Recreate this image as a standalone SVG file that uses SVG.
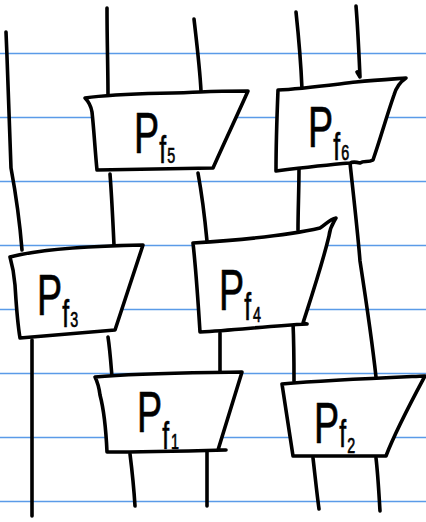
<svg xmlns="http://www.w3.org/2000/svg" width="426" height="522" viewBox="0 0 426 522">
<style>
.rule{stroke:#5a9be8;stroke-width:1.6}
.ink{fill:none;stroke:#000;stroke-width:3.6;stroke-linecap:round;stroke-linejoin:round}
.box{fill:#fff;stroke:#000;stroke-width:3.6;stroke-linecap:round;stroke-linejoin:round}
.lbl{font-family:"Liberation Sans",Arial,sans-serif;fill:#000;stroke:#000;stroke-width:0.7}
.P{font-size:58px}
.f{font-size:38px}
.d{font-size:22px}
</style>
<rect width="426" height="522" fill="#fff"/>
<g id="paper">
<line class="rule" x1="0" y1="53.5" x2="426" y2="53.5"/>
<line class="rule" x1="0" y1="117.5" x2="426" y2="117.5"/>
<line class="rule" x1="0" y1="181.5" x2="426" y2="181.5"/>
<line class="rule" x1="0" y1="245.5" x2="426" y2="245.5"/>
<line class="rule" x1="0" y1="309.5" x2="426" y2="309.5"/>
<line class="rule" x1="0" y1="373.5" x2="426" y2="373.5"/>
<line class="rule" x1="0" y1="437.5" x2="426" y2="437.5"/>
<line class="rule" x1="0" y1="501.5" x2="426" y2="501.5"/>
</g>
<g id="connectors">
<path class="ink" d="M6,32 C8,80 10,130 11,168 C16,195 20,225 22,250"/>
<path class="ink" d="M107,8 C107,40 108,70 108,95"/>
<path class="ink" d="M194,19 C197,45 200,70 201,91"/>
<path class="ink" d="M296,12 C299,40 301,65 302,89"/>
<path class="ink" d="M356,6 C358,30 359,55 360,77 L357,72"/>
<path class="ink" d="M110,174 C112,200 113,225 114,245"/>
<path class="ink" d="M198,173 C202,195 205,220 207,241"/>
<path class="ink" d="M299,168 C299,190 298,210 298,230"/>
<path class="ink" d="M350,163 C354,200 358,235 360,261 C366,300 372,340 376,377"/>
<path class="ink" d="M32,340 C32,400 32,460 32,516"/>
<path class="ink" d="M108,337 C110,350 111,365 112,377"/>
<path class="ink" d="M220,333 C220,345 220,360 220,372"/>
<path class="ink" d="M293,323 C294,345 294,365 294,381"/>
<path class="ink" d="M130,454 C132,470 134,490 135,506"/>
<path class="ink" d="M207,452 C207,470 207,490 207,506"/>
<path class="ink" d="M313,458 C315,475 317,495 319,509"/>
<path class="ink" d="M376,458 C378,475 379,495 380,511"/>
</g>
<g id="Pf5">
<path class="box" d="M85,98 C120,93 160,94 200,92 C220,91 236,91 248,91 C236,118 224,143 213,168 L97,170 C95,150 94,130 92,112 C91,106 88,101 85,98 Z"/>
<text class="lbl" transform="translate(134,153) scale(0.65,1)"><tspan class="P">P</tspan><tspan class="f" dy="10">f</tspan><tspan class="d" dx="2">5</tspan></text>
</g>
<g id="Pf6">
<path class="box" d="M278,90 C300,89 330,85 356,82 C375,80 392,79 406,78 C400,82 396,88 394,95 C386,118 380,140 373,160 C368,163 364,160 360,163 C356,162 352,162 350,163 C325,165 300,168 276,171 C276,140 277,115 278,90 Z"/>
<text class="lbl" transform="translate(308,147) scale(0.65,1)"><tspan class="P">P</tspan><tspan class="f" dy="13">f</tspan><tspan class="d" dx="2">6</tspan></text>
</g>
<g id="Pf3">
<path class="box" d="M10,257 C40,249 90,246 143,245 C134,273 124,302 115,330 L20,338 C17,320 16,300 15,285 C14,272 12,264 10,257 Z"/>
<text class="lbl" transform="translate(37,315) scale(0.65,1)"><tspan class="P">P</tspan><tspan class="f" dy="12">f</tspan><tspan class="d" dx="2">3</tspan></text>
</g>
<g id="Pf4">
<path class="box" d="M193,243 C240,240 290,235 320,228 C326,224 330,219 336,218 C334,222 330,226 329,236 C322,265 312,295 303,323 L307,324 C270,326 235,330 200,332 C198,300 196,270 193,243 Z"/>
<text class="lbl" transform="translate(219,310) scale(0.65,1)"><tspan class="P">P</tspan><tspan class="f" dy="10">f</tspan><tspan class="d" dx="3" dy="2">4</tspan></text>
</g>
<g id="Pf1">
<path class="box" d="M95,377 C140,373 190,373 242,372 C234,398 226,424 218,450 L226,450 C186,451 146,452 107,452 C106,430 104,410 100,395 C99,387 97,381 95,377 Z"/>
<text class="lbl" transform="translate(137,432) scale(0.65,1)"><tspan class="P">P</tspan><tspan class="f" dy="17">f</tspan><tspan class="d" dx="3">1</tspan></text>
</g>
<g id="Pf2">
<path class="box" d="M282,384 C330,380 380,378 425,376 C410,404 396,430 386,456 L293,456 C289,430 285,405 282,384 Z"/>
<text class="lbl" transform="translate(314,443) scale(0.65,1)"><tspan class="P">P</tspan><tspan class="f" dy="4">f</tspan><tspan class="d" dx="2" dy="6">2</tspan></text>
</g>
</svg>
